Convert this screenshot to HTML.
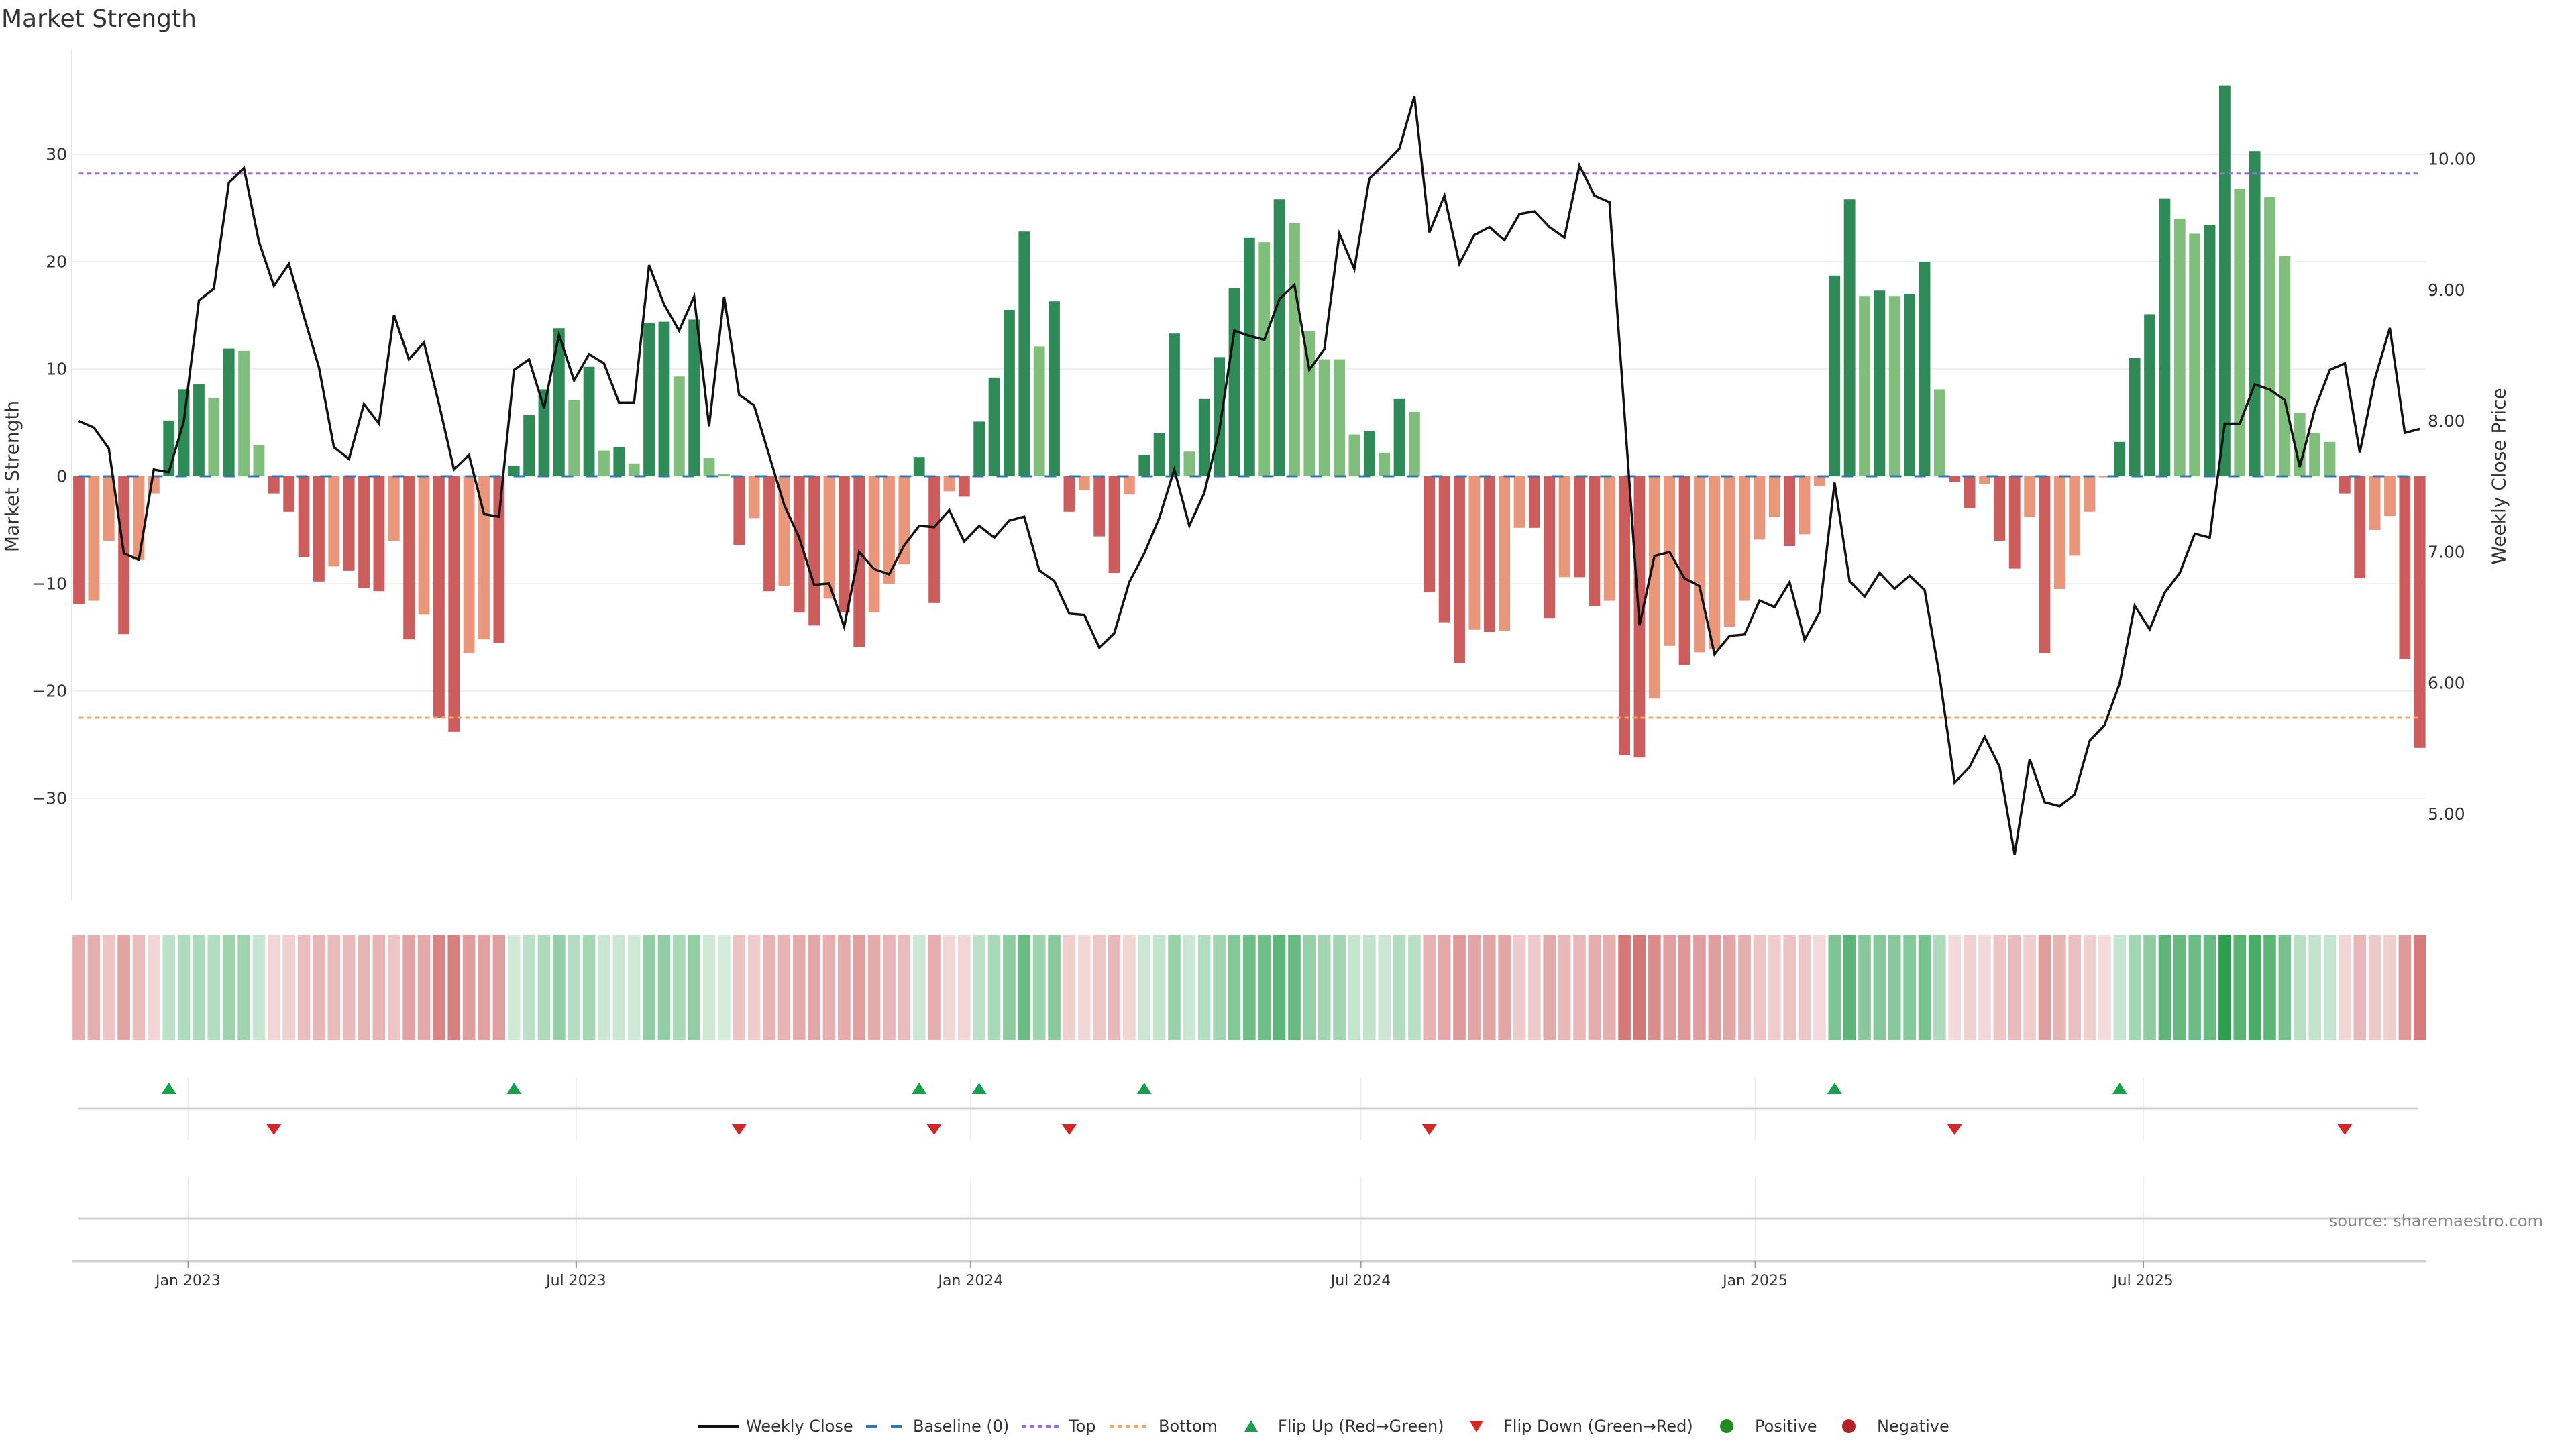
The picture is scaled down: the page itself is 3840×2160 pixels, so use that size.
<!DOCTYPE html>
<html><head><meta charset="utf-8"><title>Market Strength</title>
<style>
html,body{margin:0;padding:0;background:#fff;}
svg{display:block;font-family:"DejaVu Sans","Liberation Sans",sans-serif;}
</style></head>
<body>
<svg id="chart" xmlns="http://www.w3.org/2000/svg" width="3840" height="2160" viewBox="0 0 3840 2160">
<rect x="0" y="0" width="3840" height="2160" fill="#fff"/>
<text x="2" y="40" font-size="36" fill="#333">Market Strength</text>
<g id="grid"></g>
<g id="bars"></g>
<g id="refs"></g>
<g id="price"></g>
<g id="axes"></g>
<g id="heat"></g>
<g id="flips"></g>
<g id="xaxis"></g>
<text transform="translate(18,710) rotate(-90)" text-anchor="middle" dominant-baseline="central" font-size="28" fill="#333">Market Strength</text>
<text transform="translate(3725,710) rotate(-90)" text-anchor="middle" dominant-baseline="central" font-size="28" fill="#333">Weekly Close Price</text>
<text x="3791" y="1828" text-anchor="end" font-size="24" fill="#888">source: sharemaestro.com</text>
<g id="legend"></g>
</svg>
<script>
// ---- data ----
const startDate = "2022-11-11";
const strength = [-11.9,-11.6,-6.0,-14.7,-7.8,-1.6,5.2,8.1,8.6,7.3,11.9,11.7,2.9,-1.6,-3.3,-7.5,-9.8,-8.4,-8.8,-10.4,
-10.7,-6.0,-15.2,-12.9,-22.5,-23.8,-16.5,-15.2,-15.5,1.0,5.7,8.1,13.8,7.1,10.2,2.4,2.7,1.2,14.3,14.4,
9.3,14.6,1.7,0.2,-6.4,-3.9,-10.7,-10.2,-12.7,-13.9,-11.4,-12.7,-15.9,-12.7,-10.0,-8.2,1.8,-11.8,-1.4,-1.9,
5.1,9.2,15.5,22.8,12.1,16.3,-3.3,-1.3,-5.6,-9.0,-1.7,2.0,4.0,13.3,2.3,7.2,11.1,17.5,22.2,21.8,
25.8,23.6,13.5,10.9,10.9,3.9,4.2,2.2,7.2,6.0,-10.8,-13.6,-17.4,-14.3,-14.5,-14.4,-4.8,-4.8,-13.2,-9.4,
-9.4,-12.1,-11.6,-26.0,-26.2,-20.7,-15.8,-17.6,-16.4,-16.1,-14.0,-11.6,-5.9,-3.8,-6.5,-5.4,-0.9,18.7,25.8,16.8,
17.3,16.8,17.0,20.0,8.1,-0.5,-3.0,-0.7,-6.0,-8.6,-3.8,-16.5,-10.5,-7.4,-3.3,-0.1,3.2,11.0,15.1,25.9,
24.0,22.6,23.4,36.4,26.8,30.3,26.0,20.5,5.9,4.0,3.2,-1.6,-9.5,-5.0,-3.7,-17.0,-25.3];
const tone = "RSSRSSDDDLDLLRRRRSRRRSRSRRSSRDDDDLDLDLDDLDLLRSRSRRSRRSSSDRSRDDDDLDRSRRSDDDLDDDDLDLLLLLDLDLRRRSRSSRRSRRSRRSSRSSSSSSRSSDDLDLDDLRRSRRSRSSSSDDDDLLDDLDLLLLLRRSSRR";
const closePrice = [8.00,7.95,7.79,6.99,6.94,7.63,7.61,8.00,8.92,9.01,9.82,9.93,9.37,9.03,9.20,8.80,8.41,7.80,7.71,8.13,
7.98,8.81,8.47,8.60,8.13,7.63,7.74,7.29,7.27,8.39,8.47,8.10,8.66,8.31,8.51,8.44,8.14,8.14,9.19,8.89,
8.69,8.95,7.96,8.95,8.20,8.12,7.74,7.36,7.11,6.75,6.76,6.43,7.00,6.87,6.83,7.05,7.20,7.19,7.32,7.08,
7.20,7.11,7.24,7.27,6.86,6.78,6.53,6.52,6.27,6.38,6.77,6.99,7.26,7.63,7.20,7.45,7.93,8.69,8.65,8.62,
8.93,9.04,8.39,8.55,9.43,9.16,9.85,9.96,10.08,10.48,9.44,9.72,9.20,9.42,9.48,9.38,9.58,9.60,9.48,9.40,
9.95,9.72,9.67,8.06,6.44,6.97,7.00,6.80,6.74,6.22,6.36,6.37,6.63,6.58,6.77,6.33,6.54,7.53,6.78,6.66,
6.84,6.72,6.82,6.71,6.05,5.24,5.36,5.59,5.36,4.69,5.42,5.09,5.06,5.15,5.56,5.68,6.00,6.59,6.41,6.69,
6.84,7.14,7.11,7.98,7.98,8.28,8.24,8.16,7.65,8.09,8.39,8.44,7.76,8.32,8.71,7.91,7.94];
const leftTicks = [30,20,10,0,-10,-20,-30];
const rightTicks = [10,9,8,7,6,5];
const topLevel = 28.2;
const bottomLevel = -22.5;
const xTickLabels = ["Jan 2023","Jul 2023","Jan 2024","Jul 2024","Jan 2025","Jul 2025"];
const xTickDates = ["2023-01-01","2023-07-01","2024-01-01","2024-07-01","2025-01-01","2025-07-01"];

// ---- scales ----
const NS="http://www.w3.org/2000/svg";
const X0=117.5, DAYPX=3.1957, PL=108, PR=3616;
const t0=Date.parse(startDate+"T00:00:00Z");
function xDate(s){return X0+(Date.parse(s+"T00:00:00Z")-t0)/86400000*DAYPX;}
function xIdx(i){return X0+i*7*DAYPX;}
function yL(v){return 710-v*16;}
function yR(p){return 237+(10-p)*195.3;}
function mk(tag,attrs,parent){const e=document.createElementNS(NS,tag);for(const k in attrs)e.setAttribute(k,attrs[k]);parent.appendChild(e);return e;}
const C={D:"#2e8b57",L:"#7fbf7b",R:"#cd5c5c",S:"#e9967a"};
const g=id=>document.getElementById(id);

// grid + left ticks
leftTicks.forEach(v=>{
  const l=mk("line",{x1:PL,x2:PR,y1:yL(v),y2:yL(v),stroke:"#eef0f3","stroke-width":2},g("grid"));
  
  
  const t=mk("text",{x:100,y:yL(v),"text-anchor":"end","dominant-baseline":"central","font-size":25,fill:"#333"},g("axes"));
  t.textContent=v<0?"\u2212"+Math.abs(v):String(v);
  
  
});
const ax=mk("line",{x1:107,x2:107,y1:74,y2:1342,stroke:"#e6e6e6","stroke-width":2},g("grid"));


rightTicks.forEach(p=>{
  const t=mk("text",{x:3619,y:yR(p),"dominant-baseline":"central","font-size":25,fill:"#333"},g("axes"));
  t.textContent=p.toFixed(2);
  
  
});

// bars
const bw=16.8;
strength.forEach((v,i)=>{
  const y0=yL(0),y1=yL(v);
  const r=mk("rect",{x:xIdx(i)-bw/2,y:Math.min(y0,y1),width:bw,height:Math.max(Math.abs(y1-y0),0.5),fill:C[tone[i]]},g("bars"));
  
  
});

// reference lines
const xa=xIdx(0), xb=xIdx(strength.length-1);
let l=mk("line",{x1:xa,x2:xb,y1:yL(0),y2:yL(0),stroke:"#2f78b5","stroke-width":3,"stroke-dasharray":"17 19"},g("refs"));


l=mk("line",{x1:xa,x2:xb,y1:yL(topLevel),y2:yL(topLevel),stroke:"#9b6ddc","stroke-width":3,"stroke-dasharray":"7 5"},g("refs"));


l=mk("line",{x1:xa,x2:xb,y1:yL(bottomLevel),y2:yL(bottomLevel),stroke:"#f0a868","stroke-width":3,"stroke-dasharray":"7 5"},g("refs"));



// price line
const pts=closePrice.map((p,i)=>xIdx(i).toFixed(1)+","+yR(p).toFixed(1)).join(" ");
const pl=mk("polyline",{points:pts,fill:"none",stroke:"#111","stroke-width":3.5,"stroke-linejoin":"miter"},g("price"));



// heatmap
const maxAbs=Math.max(...strength.map(Math.abs));
function mix(c,a){return "rgb("+c.map(x=>Math.round(x*a+255*(1-a))).join(",")+")";}
strength.forEach((v,i)=>{
  const a=0.2+0.8*Math.abs(v)/maxAbs;
  const col=v>=0?mix([44,160,80],a):mix([200,80,80],a);
  const r=mk("rect",{x:xIdx(i)-9.3,y:1394,width:18.6,height:157,fill:col},g("heat"));
  
  
});

// flip panel
xTickDates.forEach(d=>{
  const x=xDate(d);
  let v=mk("line",{x1:x,x2:x,y1:1606,y2:1700,stroke:"#eceef0","stroke-width":2},g("flips"));
  
  
  v=mk("line",{x1:x,x2:x,y1:1754,y2:1880,stroke:"#eceef0","stroke-width":2},g("flips"));
  
  
});
l=mk("line",{x1:117,x2:3605,y1:1652,y2:1652,stroke:"#d0d0d0","stroke-width":3},g("flips"));


l=mk("line",{x1:117,x2:3605,y1:1816,y2:1816,stroke:"#d0d0d0","stroke-width":3},g("flips"));


for(let i=1;i<strength.length;i++){
  const x=xIdx(i);
  if(strength[i]>0&&strength[i-1]<0){
    const t=mk("polygon",{points:(x-11)+",1631 "+(x+11)+",1631 "+x+",1614",fill:"#16a04a"},g("flips"));
    
    
  } else if(strength[i]<0&&strength[i-1]>0){
    const t=mk("polygon",{points:(x-11)+",1676 "+(x+11)+",1676 "+x+",1692",fill:"#d62728"},g("flips"));
    
    
  }
}

// x axis
l=mk("line",{x1:108,x2:3616,y1:1880,y2:1880,stroke:"#d0d0d0","stroke-width":3},g("xaxis"));


xTickLabels.forEach((lab,k)=>{
  const x=xDate(xTickDates[k]);
  const tk=mk("line",{x1:x,x2:x,y1:1880,y2:1890,stroke:"#999","stroke-width":2},g("xaxis"));
  
  
  const t=mk("text",{x:x,y:1916,"text-anchor":"middle","font-size":22,fill:"#333"},g("xaxis"));
  t.textContent=lab;
  
  
});

// legend
const lg=g("legend");
function ltext(x,s){const t=mk("text",{x:x,y:2126,"dominant-baseline":"central","font-size":24,fill:"#333"},lg);t.textContent=s;
  
  }
let e;
e=mk("line",{x1:1041,x2:1102,y1:2126,y2:2126,stroke:"#111","stroke-width":4},lg);


ltext(1112,"Weekly Close");
e=mk("line",{x1:1291,x2:1344,y1:2126,y2:2126,stroke:"#2f78b5","stroke-width":4,"stroke-dasharray":"16 21"},lg);


ltext(1361,"Baseline (0)");
e=mk("line",{x1:1523,x2:1580,y1:2126,y2:2126,stroke:"#9b6ddc","stroke-width":4,"stroke-dasharray":"7 5"},lg);


ltext(1593,"Top");
e=mk("line",{x1:1654,x2:1710,y1:2126,y2:2126,stroke:"#f0a868","stroke-width":4,"stroke-dasharray":"7 5"},lg);


ltext(1727,"Bottom");
e=mk("polygon",{points:"1855,2134 1875,2134 1865,2117",fill:"#16a04a"},lg);


ltext(1905,"Flip Up (Red\u2192Green)");
e=mk("polygon",{points:"2191,2118 2211,2118 2201,2135",fill:"#d62728"},lg);


ltext(2241,"Flip Down (Green\u2192Red)");
e=mk("circle",{cx:2574,cy:2126,r:10,fill:"#228b22"},lg);


ltext(2616,"Positive");
e=mk("circle",{cx:2756,cy:2126,r:10,fill:"#b22222"},lg);


ltext(2798,"Negative");
</script>
</body></html>
